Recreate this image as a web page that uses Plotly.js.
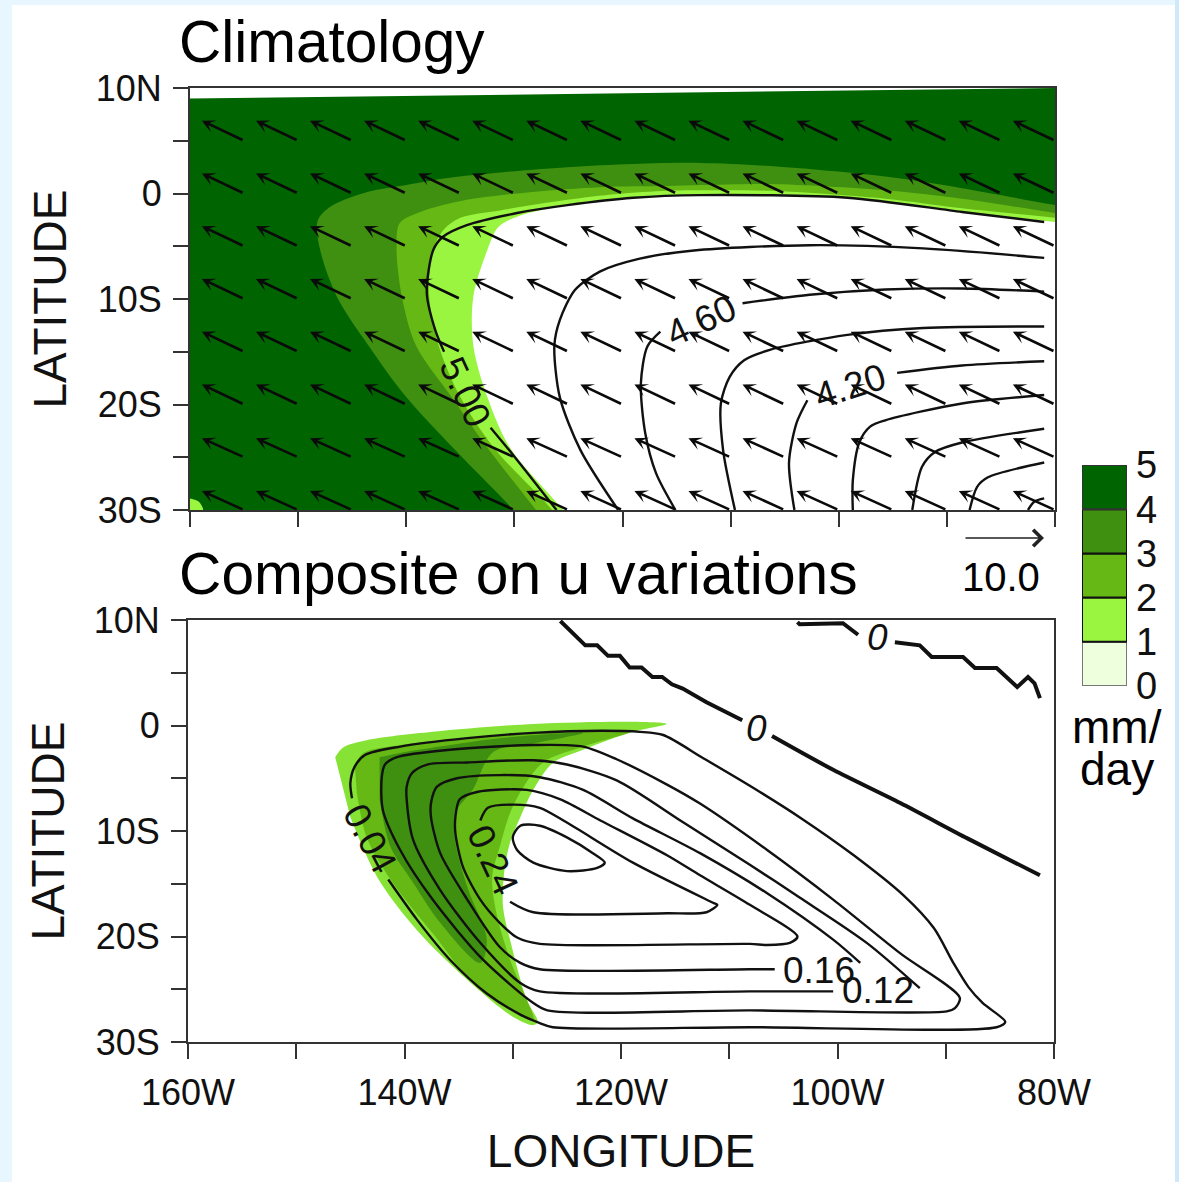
<!DOCTYPE html>
<html><head><meta charset="utf-8">
<script src="https://cdn.plot.ly/plotly-3.0.1.min.js"></script>
<style>html,body{margin:0;padding:0;background:#e8f6ff}</style></head>
<body><div id="chart" style="width:1179px;height:1182px"></div>
<script>
// ---------- shared ticks ----------
const lonTicks=[-160,-150,-140,-130,-120,-110,-100,-90,-80];
const lonLabels=['160W','','140W','','120W','','100W','','80W'];
const latTicks=[10,5,0,-5,-10,-15,-20,-25,-30];
const latLabels=['10N','','0','','10S','','20S','','30S'];
const levelValues=[1,1,1,1,1];
const levelBase=[0,1,2,3,4];
const levelColors=['#eeffdd','#99f53f','#66b814','#3f8f10','#006400'];
const levelLabels=['0','1','2','3','4','5'];

// ---------- Climatology: shaded boundaries (lon, lat) ----------
const topDarkLon=[-160,-80,-80,-160];
const topDarkLat=[9,10,-30,-30];
const topCornerLon=[-160,-159.2,-158.8,-160];
const topCornerLat=[-28.9,-29.2,-30,-30];
const top4Lon=[-127,-130.1,-134.65,-140,-143.5,-146.4,-148,-148.2,-147.1,-143.9,-140.6,-136,-131.3,-125.1,-119,-112.8,-106.3,-95.7,-88.6,-80,-70,-70];
const top4Lat=[-34,-30,-25.2,-19.3,-14.4,-9.8,-5.2,-2.6,-1.3,0.05,0.7,1.5,2,2.5,2.8,2.9,2.6,1.6,0.5,-1.1,-3,-40];
const top3Lon=[-125,-128,-132.5,-135.8,-139.1,-140.4,-140.9,-140.6,-138.7,-134.4,-128.3,-122.1,-115.9,-112.8,-106.3,-95.7,-88.6,-80,-70,-70];
const top3Lat=[-34,-30,-24.1,-19.3,-14.4,-9.8,-5.2,-2.8,-1.75,-0.6,0.15,0.6,0.7,0.8,0.9,0.3,-0.5,-1.85,-3.5,-40];
const top2Lon=[-123.5,-126.5,-131.9,-135,-137,-137.9,-137.5,-136.6,-135,-131.3,-125.1,-120.5,-115.9,-113.4,-106.3,-95.7,-88.6,-80,-70,-70];
const top2Lat=[-34,-30,-24.1,-19.3,-14.4,-9.4,-5.3,-3.5,-2.3,-1.6,-0.6,-0.05,0.25,0.3,0.25,-0.5,-1.4,-2.3,-3.5,-40];
const top1Lon=[-122.5,-125.5,-130.4,-132.5,-133.8,-133.8,-132.5,-131.5,-129.75,-125.1,-119,-112.8,-99.2,-88.6,-80,-70,-70];
const top1Lat=[-34,-30,-24.1,-19.3,-14.4,-9.8,-5.35,-3.2,-2.2,-1.1,-0.4,-0.15,-0.4,-1.75,-2.7,-3.5,-40];

// ---------- Climatology: contour lines ----------
const c500aLon=[-81,-88.6,-99.2,-112.8,-119,-125.1,-129.75,-134.4,-136.6,-137.5,-138.1,-137.3,-136.5];
const c500aLat=[-2.7,-1.75,-0.4,-0.15,-0.4,-1.1,-1.85,-3,-4.1,-5.35,-9.4,-13,-15];
const c500bLon=[-132.2,-130.1,-126.1];
const c500bLat=[-22.2,-24.8,-30];
const c480Lon=[-81,-92.2,-102.7,-113.4,-118.5,-122.1,-124.4,-125.8,-126.3,-125.8,-123.9,-120.4];
const c480Lat=[-6.1,-5.2,-4.9,-5.4,-6.2,-7.4,-9.15,-12,-14.4,-19.3,-24.3,-30];
const c460aLon=[-81,-88.6,-95.7,-102.7,-108.9];
const c460aLat=[-9.3,-9,-9.1,-9.6,-10.4];
const c460bLon=[-116.5,-117.7,-118.3,-117.9,-116.9,-115.1];
const c460bLat=[-13.1,-14.5,-18,-22.7,-26.5,-30];
const c440Lon=[-81,-92.2,-99.2,-106.3,-108.75,-110.1,-110.9,-110.7,-109.6];
const c440Lat=[-12.6,-12.75,-13.4,-14.8,-15.8,-17.4,-19.9,-24.3,-30];
const c420aLon=[-81,-88.6,-94.6];
const c420aLat=[-15.9,-16.3,-17];
const c420bLon=[-102.9,-103.9,-104.6,-104.1];
const c420bLat=[-19.6,-21.75,-25.5,-30];
const c400Lon=[-81,-88.6,-95.7,-97.1,-98.1,-98.7,-98.7];
const c400Lat=[-19.1,-19.9,-21.5,-22.1,-23.6,-27.2,-30];
const c380Lon=[-81,-88.6,-91.1,-92.3,-93.2];
const c380Lat=[-22.3,-23.6,-24.5,-25.9,-30];
const c360Lon=[-81,-86.2,-87.2,-87.9];
const c360Lat=[-25.5,-26.9,-27.8,-30];
const c340Lon=[-81,-81.9,-82.5];
const c340Lat=[-28.9,-29.2,-30];

// ---------- Climatology: wind vectors ----------
const vecLon=[-155,-150,-145,-140,-135,-130,-125,-120,-115,-110,-105,-100,-95,-90,-85,-80];
const vecLat=[5,0,-5,-10,-15,-20,-25,-30];
const vecU=[-3.9,-3.9,-3.9,-3.9,-3.9,-3.9,-3.9,-3.9];
const vecV=[1.9,1.9,1.9,1.9,1.9,1.9,1.8,1.8];

// ---------- Composite: shaded boundaries ----------
const botOuterLon=[-146.4,-145.7,-143.5,-137.4,-128.1,-118.9,-115.8,-118.9,-123.5,-126.3,-128.1,-129.3,-130.25,-130.8,-130.9,-130.25,-128.7,-127.7,-128.1,-130,-134.2,-138.85,-142.5,-145];
const botOuterLat=[-3,-2.1,-1.4,-0.6,0.15,0.35,0.15,-0.6,-2.3,-3.55,-6.1,-8.7,-11.1,-14,-17.2,-20.3,-26,-28.1,-28.4,-27.6,-24.1,-19.4,-14.4,-8.7];
const botMidLon=[-144.6,-143.8,-140.4,-134.2,-128.1,-123.5,-118.9,-123.5,-127.2,-129,-130.25,-131.2,-131.9,-131.5,-130.25,-128.7,-128.1,-133,-137.4,-141.3,-143.5,-144.4];
const botMidLat=[-3.7,-2.6,-1.85,-1.2,-0.7,-0.6,-0.5,-2,-3.5,-5.8,-8.3,-11.5,-14.4,-17.8,-22.2,-26,-27.9,-25.1,-19.7,-14.6,-10.6,-6.4];
const botDarkLon=[-142.3,-140.4,-135.8,-131.2,-123.5,-128.1,-131.8,-133.7,-135.3,-135.3,-134.2,-132.4,-133,-136.7,-139.2,-141.3,-142.3];
const botDarkLat=[-3,-2.6,-1.85,-1.2,-0.7,-1.7,-2.5,-6.1,-8.3,-11.1,-15.3,-20.3,-22.5,-18.7,-14.9,-11.5,-7];

// ---------- Composite: contour lines ----------
const b004Lon=[-144.85,-145,-144.6,-143.65,-140.4,-134.2,-128.1,-121.9,-118.25,-116.1,-112.4,-107.8,-103.2,-98.5,-93.9,-91.1,-89.3,-87.9,-86.6,-84.5,-85.3,-108.1,-126.3,-127.5,-129.3,-132.4,-135.8,-138.85,-141.5];
const b004Lat=[-6.9,-5.45,-3.9,-2.8,-2,-1.2,-0.7,-0.5,-0.6,-0.9,-3.1,-5.9,-8.9,-12.3,-16.1,-19.2,-22.5,-24.8,-26.3,-28.1,-28.6,-28.6,-28.6,-28.2,-27.4,-25.4,-22.2,-18.4,-14.6];
const b008Lon=[-89.9,-108.1,-126.8,-128.1,-132.75,-137.4,-140.4,-142,-142.1,-141.8,-140.7,-135.8,-128.1,-123.5,-120.4,-115.75,-112.7,-106.5,-100.4,-94.2,-88.7,-89.15,-89.9];
const b008Lat=[-27.1,-27,-27,-26.3,-22.2,-16.5,-11.8,-8,-4.9,-3.7,-3,-2.3,-1.85,-2,-3.2,-5.6,-7.4,-11.8,-16.5,-21.6,-25.8,-26.8,-27.1];
const b012Lon=[-92.4,-97.3,-103.5,-108.1,-114.3,-120.4,-125,-128.1,-134.2,-137.9,-139.3,-139.8,-139.8,-139.2,-136.7,-133,-129.3,-127.5,-108.1,-100.4];
const b012Lat=[-24.9,-20.6,-16.3,-13.2,-9.15,-5.2,-3.7,-3.3,-3.5,-3.7,-4.5,-5.8,-7,-10.85,-15.6,-20.6,-24.4,-25.2,-25.2,-25.2];
const b016Lon=[-97.9,-100.4,-106.5,-112.7,-118.9,-123.5,-127.5,-131.2,-135.15,-137,-137.55,-137.55,-136.7,-134.2,-131.2,-129.3,-127.5,-108.1,-105.8];
const b016Lat=[-22.5,-20.3,-15.9,-12.1,-8.8,-6.1,-4.9,-4.7,-5,-5.8,-7.35,-8.7,-12.1,-16.5,-21,-22.5,-23.1,-23.1,-23.1];
const b020Lon=[-103.7,-108.1,-112.7,-115.75,-121.9,-125.6,-128.7,-133.3,-134.9,-135.3,-135.3,-134.6,-133,-131.2,-129.6,-127.5,-108.1,-106.5,-104.4,-103.7];
const b020Lat=[-20,-17,-14.2,-12.3,-9,-7,-6.1,-6.3,-7,-8.7,-10.2,-13.4,-16.5,-18.7,-20.1,-20.7,-20.7,-20.8,-20.6,-20];
const b024Lon=[-133,-132.3,-130,-127.5,-125,-118.9,-111.5,-111.1,-112.1,-115.75,-128.1,-130.25];
const b024Lat=[-9,-7.8,-7.5,-7.8,-9.2,-13,-16.8,-17,-17.7,-17.8,-17.7,-16.7];
const b028Lon=[-130,-129.3,-127.5,-125,-122.6,-121.5,-122.2,-125,-128.1,-129.6,-130];
const b028Lat=[-10.6,-9.5,-9.5,-10.6,-12.1,-13,-13.5,-13.8,-13,-11.8,-10.6];
const z1aLon=[-125.6,-123.3,-122.2,-121.2,-120.1,-119.2,-118.1,-117.1,-116.2,-115.3,-114.3,-112.1,-108.8];
const z1aLat=[9.9,7.6,7.6,6.6,6.6,5.5,5.5,4.6,4.6,3.9,3.5,2.2,0.5];
const z1bLon=[-106.05,-100.4,-94.2,-88,-81.3];
const z1bLat=[-1,-4.2,-7.35,-10.7,-14.2];
const z2aLon=[-103.7,-103.5,-99.5,-98.1];
const z2aLat=[9.8,9.6,9.7,8.6];
const z2bLon=[-94.7,-92.4,-91.3,-88.4,-87.3,-85.3,-83.4,-82.4,-81.8,-81.3];
const z2bLat=[7.9,7.6,6.5,6.5,5.45,5.45,3.65,4.6,4,2.6];

// ---------- contour labels ----------
const topLabels=['5.00','4.60','4.20'];
const topLabelLon=[-134.6,-112.7,-99];
const topLabelLat=[-18.8,-12,-18.25];
const topLabelAngle=[65,-25,-18];
const botLabels=['0.04','0.24','0.16','0.12','<i>0</i>','<i>0</i>'];
const botLabelLon=[-143.2,-131.8,-101.7,-96.3,-107.5,-96.3];
const botLabelLat=[-10.7,-12.75,-23.2,-25.1,-0.3,8.3];
const botLabelAngle=[62,65,0,0,0,0];

const INK='#111111', FONT='"Liberation Sans", Arial, sans-serif';
function area(lon,lat,color,axis){
  return {type:'scatter',mode:'lines',x:lon,y:lat,xaxis:'x'+axis,yaxis:'y'+axis,fill:'toself',fillcolor:color,
    line:{width:0,shape:'spline',smoothing:0.9,color:color},hoverinfo:'skip',showlegend:false};
}
function flat(lon,lat,color,axis){
  const t=area(lon,lat,color,axis); t.line.shape='linear'; return t;
}
function curve(lon,lat,axis,w,shape){
  return {type:'scatter',mode:'lines',x:lon,y:lat,xaxis:'x'+axis,yaxis:'y'+axis,
    line:{width:w||2.4,color:INK,shape:shape||'spline',smoothing:0.8},hoverinfo:'skip',showlegend:false};
}
const traces=[
  flat(topDarkLon,topDarkLat,levelColors[4],''),
  area(topCornerLon,topCornerLat,levelColors[1],''),
  area(top4Lon,top4Lat,levelColors[3],''),
  area(top3Lon,top3Lat,levelColors[2],''),
  area(top2Lon,top2Lat,levelColors[1],''),
  area(top1Lon,top1Lat,'#ffffff',''),
  curve(c500aLon,c500aLat,''),curve(c500bLon,c500bLat,''),curve(c480Lon,c480Lat,''),
  curve(c460aLon,c460aLat,''),curve(c460bLon,c460bLat,''),curve(c440Lon,c440Lat,''),
  curve(c420aLon,c420aLat,''),curve(c420bLon,c420bLat,''),curve(c400Lon,c400Lat,''),
  curve(c380Lon,c380Lat,''),curve(c360Lon,c360Lat,''),curve(c340Lon,c340Lat,''),
  area(botOuterLon,botOuterLat,'#86e336','2'),
  area(botMidLon,botMidLat,levelColors[2],'2'),
  area(botDarkLon,botDarkLat,levelColors[3],'2'),
  curve(b004Lon,b004Lat,'2'),curve(b008Lon,b008Lat,'2'),curve(b012Lon,b012Lat,'2'),
  curve(b016Lon,b016Lat,'2'),curve(b020Lon,b020Lat,'2'),curve(b024Lon,b024Lat,'2'),curve(b028Lon,b028Lat,'2'),
  curve(z1aLon,z1aLat,'2',4,'linear'),curve(z1bLon,z1bLat,'2',4),
  curve(z2aLon,z2aLat,'2',4,'linear'),curve(z2bLon,z2bLat,'2',4,'linear'),
  {type:'bar',x:[0,0,0,0,0],y:levelValues,base:levelBase,width:1,xaxis:'x3',yaxis:'y3',
   marker:{color:levelColors,line:{color:['#777777','#111111','#111111','#111111','#333333'],width:2}},hoverinfo:'skip',showlegend:false}
];

const annotations=[];
vecLat.forEach((la,r)=>vecLon.forEach(lo=>{
  annotations.push({x:lo+vecU[r],y:la+vecV[r],ax:lo,ay:la,xref:'x',yref:'y',axref:'x',ayref:'y',text:' ',font:{size:1},
    showarrow:true,arrowhead:3,arrowsize:0.85,arrowwidth:2.6,arrowcolor:'#0a0a0a',standoff:0,startstandoff:0});
}));
function note(text,x,y,size,extra){
  return Object.assign({text:text,x:x,y:y,xref:'paper',yref:'paper',showarrow:false,xanchor:'left',yanchor:'middle',
    font:{family:FONT,size:size,color:'#000'}},extra||{});
}
topLabels.forEach((t,i)=>annotations.push({text:t,x:topLabelLon[i],y:topLabelLat[i],xref:'x',yref:'y',showarrow:false,textangle:topLabelAngle[i],font:{family:FONT,size:37,color:INK}}));
botLabels.forEach((t,i)=>annotations.push({text:t,x:botLabelLon[i],y:botLabelLat[i],xref:'x2',yref:'y2',showarrow:false,textangle:botLabelAngle[i],font:{family:FONT,size:37,color:INK}}));
const W=1179,H=1182;
annotations.push(note('Climatology',177/W,1-41/H,58.5));
annotations.push(note('Composite on u variations',177/W,1-574/H,58.7));
annotations.push(note('10.0',1001/W,1-577/H,40,{xanchor:'center'}));
annotations.push(note('mm/',1117/W,1-727/H,46,{xanchor:'center'}));
annotations.push(note('day',1117/W,1-769/H,46,{xanchor:'center'}));
annotations.push({x:1044/W,y:1-538/H,xref:'paper',yref:'paper',axref:'pixel',ayref:'pixel',ax:-80,ay:0,text:' ',font:{size:1},
  showarrow:true,arrowhead:4,arrowsize:2,arrowwidth:1.6,arrowcolor:'#222',standoff:0});

function yAxis(dom,anchor){return {domain:dom,anchor:anchor,range:[-30,10],tickmode:'array',tickvals:latTicks,ticktext:latLabels,
  ticks:'outside',ticklen:15,tickwidth:2,tickcolor:'#333',showline:true,linecolor:'#333',linewidth:2,mirror:true,showgrid:false,zeroline:false,
  tickfont:{family:FONT,size:36,color:'#111'},ticklabelstandoff:4,
  title:{text:'LATITUDE',font:{family:FONT,size:46,color:'#111'},standoff:15}};}
function xAxis(dom,anchor,labels){return {domain:dom,anchor:anchor,range:[-160,-80],tickmode:'array',tickvals:lonTicks,ticktext:lonLabels,showticklabels:labels,
  ticks:'outside',ticklen:15,tickwidth:2,tickcolor:'#333',showline:true,linecolor:'#333',linewidth:2,mirror:true,showgrid:false,zeroline:false,
  tickfont:{family:FONT,size:36,color:'#111'},ticklabelstandoff:3};}

const layout={width:W,height:H,autosize:false,margin:{l:0,r:0,t:0,b:0},paper_bgcolor:'#e8f6ff',plot_bgcolor:'#ffffff',showlegend:false,barmode:'overlay',
  xaxis:xAxis([190/W,1055/W],'y',false),
  yaxis:yAxis([1-510/H,1-88/H],'x'),
  xaxis2:Object.assign(xAxis([188/W,1054/W],'y2',true),{title:{text:'LONGITUDE',font:{family:FONT,size:46,color:'#111'},standoff:23}}),
  yaxis2:yAxis([1-1042/H,1-620/H],'x2'),
  xaxis3:{domain:[1082/W,1127/W],anchor:'y3',range:[-0.5,0.5],showticklabels:false,ticks:'',showgrid:false,zeroline:false,showline:false},
  yaxis3:{domain:[1-686/H,1-465/H],anchor:'x3',side:'right',range:[0,5],tickmode:'array',tickvals:[0,1,2,3,4,5],ticktext:levelLabels,ticks:'',showgrid:false,zeroline:false,showline:false,
    tickfont:{family:FONT,size:38,color:'#111'},ticklabelstandoff:8},
  shapes:[
    {type:'rect',xref:'paper',yref:'paper',x0:1175/W,x1:1,y0:0,y1:1,fillcolor:'#cfe9fb',line:{width:0},layer:'below'},
    {type:'rect',xref:'paper',yref:'paper',x0:12/W,x1:1175/W,y0:0,y1:1-5/H,fillcolor:'#ffffff',line:{width:0},layer:'below'}],
  annotations:annotations};
Plotly.newPlot('chart',traces,layout,{displayModeBar:false,staticPlot:true});
</script></body></html>
